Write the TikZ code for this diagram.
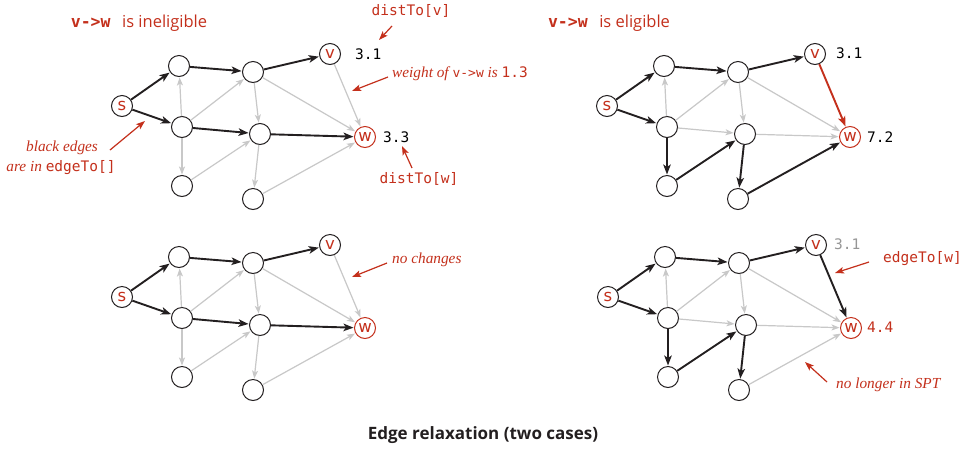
\documentclass[tikz,border=0pt]{standalone}
\usepackage{fontspec}
\setmainfont{Liberation Serif}
\setsansfont{Open Sans}
\setmonofont{DejaVu Sans Mono}
\newfontfamily\vfont{DejaVu Sans}
\usetikzlibrary{arrows.meta}
\definecolor{myred}{RGB}{196,48,28}
\definecolor{eblack}{RGB}{35,31,32}
\definecolor{egray}{RGB}{200,200,200}
\definecolor{tgray}{RGB}{150,150,150}
\tikzset{
  vtx/.style={circle, draw=eblack, line width=1pt, fill=white, minimum size=21pt, inner sep=0pt,
    font=\vfont\fontsize{16.5}{16.5}\selectfont, text=myred},
  wvtx/.style={vtx, draw=myred},
  blk/.style={draw=eblack, line width=1.9pt, -{Stealth[length=10pt,width=7.5pt,inset=2.5pt]}, shorten >=0.5pt},
  gry/.style={draw=egray, line width=1.2pt, -{Stealth[length=8pt,width=6pt,inset=2pt]}, shorten >=0.5pt},
  redge/.style={draw=myred, line width=1.9pt, -{Stealth[length=10pt,width=7.5pt,inset=2.5pt]}, shorten >=0.5pt},
  note/.style={draw=myred, line width=1.2pt, -{Stealth[length=9pt,width=6.5pt,inset=2pt]}},
  lbl/.style={inner sep=0pt, text=myred},
  num/.style={inner sep=0pt, font=\ttfamily\fontsize{14.5}{16}\selectfont},
  it/.style={inner sep=0pt, text=myred, font=\itshape\fontsize{15.3}{18}\selectfont},
  ttl/.style={inner sep=0pt, text=myred, font=\fontsize{16.5}{18}\selectfont},
}
\newcommand\mkgraph[3]{%
  \begin{scope}[shift={(#2,#3)}]
    \node[vtx] (#1s) at (122,106) {s};
    \node[vtx] (#1a) at (179,66) {};
    \node[vtx] (#1b) at (182,127) {};
    \node[vtx] (#1c) at (182,186) {};
    \node[vtx] (#1d) at (253,72) {};
    \node[vtx] (#1e) at (260,134) {};
    \node[vtx] (#1f) at (253,199) {};
    \node[vtx] (#1v) at (330,54) {v};
    \node[wvtx] (#1w) at (365,137) {w};
  \end{scope}}
\begin{document}
\begin{tikzpicture}[x=1pt,y=-1pt]
\useasboundingbox (0,0) rectangle (963,448);
\fill[white] (0,0) rectangle (963,448);

% ---------- top left ----------
\mkgraph{p}{0}{0}
\draw[gry] (pb) -- (pa);
\draw[gry] (pb) -- (pd);
\draw[gry] (pb) -- (pc);
\draw[gry] (pc) -- (pe);
\draw[gry] (pd) -- (pe);
\draw[gry] (pd) -- (pw);
\draw[gry] (pe) -- (pf);
\draw[gry] (pf) -- (pw);
\draw[gry] (pv) -- (pw);
\draw[blk] (ps) -- (pa);
\draw[blk] (ps) -- (pb);
\draw[blk] (pa) -- (pd);
\draw[blk] (pd) -- (pv);
\draw[blk] (pb) -- (pe);
\draw[blk] (pe) -- (pw);

\node[ttl] (t1) at (139,23) {{\ttfamily\bfseries\fontsize{16.5}{16}\selectfont v->w}\hspace{0.7em}{\sffamily is ineligible}};
\node[lbl, num] (dv) at (411,11) {distTo[v]};
\node[num, anchor=west] (n31a) at (355,54) {3.1};
\coordinate (dva) at (392,26);
\coordinate (dvb) at (379,40);
\draw[note] (dva) -- (dvb);
\node[it, anchor=west] (wt) at (392,74) {weight of {\upshape\ttfamily\fontsize{13}{13}\selectfont v->w} is {\upshape\ttfamily\fontsize{14.5}{14}\selectfont 1.3}};
\coordinate (wta) at (388,77);
\coordinate (wtb) at (352,91);
\draw[note] (wta) -- (wtb);
\node[num, anchor=west] (n33) at (383,137) {3.3};
\node[lbl, num] (dw) at (419,179) {distTo[w]};
\coordinate (dwa) at (412,168);
\coordinate (dwb) at (402,146);
\draw[note] (dwa) -- (dwb);
\node[it] (be1) at (62,148) {black edges};
\node[it] (be2) at (61,168) {are in {\upshape\ttfamily\fontsize{14.5}{16}\selectfont edgeTo[]}};
\coordinate (bea) at (110,150);
\coordinate (beb) at (145,121);
\draw[note] (bea) -- (beb);

% ---------- top right ----------
\mkgraph{q}{485}{0}
\draw[gry] (qb) -- (qa);
\draw[gry] (qb) -- (qd);
\draw[gry] (qb) -- (qe);
\draw[gry] (qd) -- (qe);
\draw[gry] (qd) -- (qw);
\draw[gry] (qe) -- (qw);
\draw[blk] (qs) -- (qa);
\draw[blk] (qs) -- (qb);
\draw[blk] (qa) -- (qd);
\draw[blk] (qd) -- (qv);
\draw[blk] (qb) -- (qc);
\draw[blk] (qc) -- (qe);
\draw[blk] (qe) -- (qf);
\draw[blk] (qf) -- (qw);
\draw[redge] (qv) -- (qw);
\node[ttl] (t2) at (609,23) {{\ttfamily\bfseries\fontsize{16.5}{16}\selectfont v->w}\hspace{0.7em}{\sffamily is eligible}};
\node[num, anchor=west] (n31b) at (836,53) {3.1};
\node[num, anchor=west] (n72) at (867,137) {7.2};

% ---------- bottom left ----------
\mkgraph{r}{0}{191}
\draw[gry] (rb) -- (ra);
\draw[gry] (rb) -- (rd);
\draw[gry] (rb) -- (rc);
\draw[gry] (rc) -- (re);
\draw[gry] (rd) -- (re);
\draw[gry] (rd) -- (rw);
\draw[gry] (re) -- (rf);
\draw[gry] (rf) -- (rw);
\draw[gry] (rv) -- (rw);
\draw[blk] (rs) -- (ra);
\draw[blk] (rs) -- (rb);
\draw[blk] (ra) -- (rd);
\draw[blk] (rd) -- (rv);
\draw[blk] (rb) -- (re);
\draw[blk] (re) -- (rw);
\node[it, anchor=west] (nc) at (392,260) {no changes};
\coordinate (nca) at (387,263);
\coordinate (ncb) at (352,277);
\draw[note] (nca) -- (ncb);

% ---------- bottom right ----------
\mkgraph{u}{486}{191}
\draw[gry] (ub) -- (ua);
\draw[gry] (ub) -- (ud);
\draw[gry] (ub) -- (ue);
\draw[gry] (ud) -- (ue);
\draw[gry] (ud) -- (uw);
\draw[gry] (ue) -- (uw);
\draw[gry] (uf) -- (uw);
\draw[blk] (us) -- (ua);
\draw[blk] (us) -- (ub);
\draw[blk] (ua) -- (ud);
\draw[blk] (ud) -- (uv);
\draw[blk] (ub) -- (uc);
\draw[blk] (uc) -- (ue);
\draw[blk] (ue) -- (uf);
\draw[blk] (uv) -- (uw);
\node[num, anchor=west, text=tgray] (n31c) at (834,244) {3.1};
\node[num, anchor=west, text=myred] (et) at (883,259) {edgeTo[w]};
\coordinate (eta) at (869,262);
\coordinate (etb) at (835,273);
\draw[note] (eta) -- (etb);
\node[num, anchor=west, text=myred] (n44) at (867,327) {4.4};
\node[it, anchor=west] (nl) at (836,385) {no longer in SPT};
\coordinate (nla) at (827,382);
\coordinate (nlb) at (805,362);
\draw[note] (nla) -- (nlb);

% ---------- caption ----------
\node[inner sep=0pt, text=eblack, font=\sffamily\bfseries\fontsize{17}{19}\selectfont] (cap) at (483,435) {Edge relaxation (two cases)};
\end{tikzpicture}
\end{document}
